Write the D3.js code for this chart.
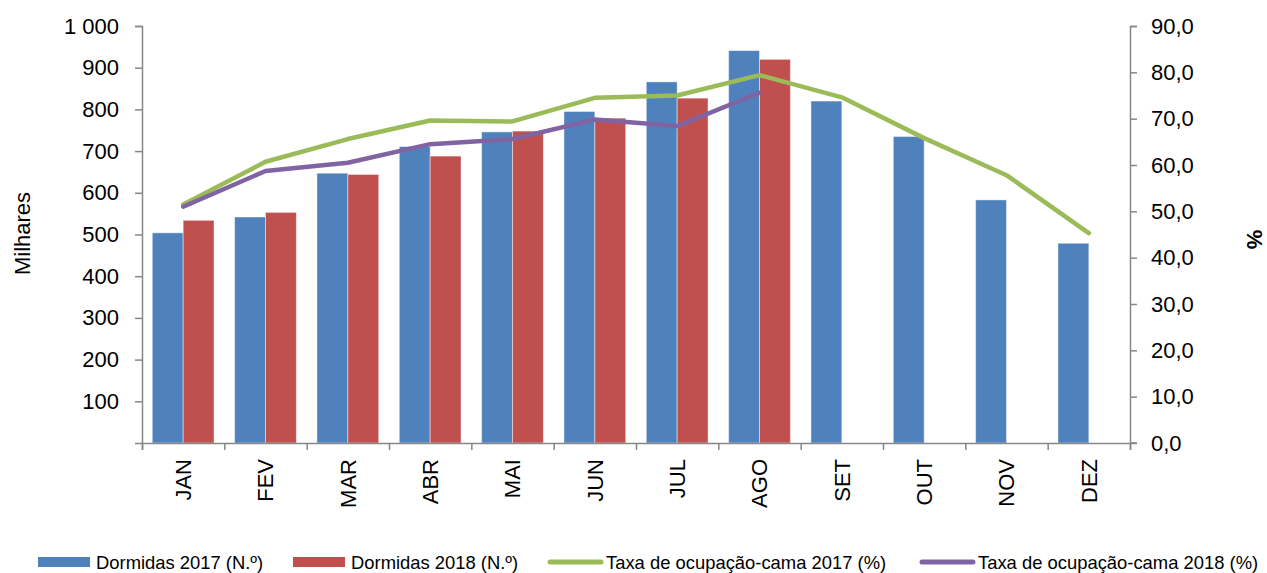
<!DOCTYPE html>
<html>
<head>
<meta charset="utf-8">
<script src="https://cdnjs.cloudflare.com/ajax/libs/d3/7.8.5/d3.min.js"></script>
<style>
  body { margin: 0; background: #fff; }
  text { font-family: "Liberation Sans", Arial, sans-serif; }
</style>
</head>
<body>
<div id="chart"></div>
<script>
var months = ["JAN", "FEV", "MAR", "ABR", "MAI", "JUN", "JUL", "AGO", "SET", "OUT", "NOV", "DEZ"];
var dormidas2017 = [504, 542, 647, 711, 746, 795, 866, 941, 820, 735, 583, 479];
var dormidas2018 = [534, 553, 644, 688, 748, 779, 827, 920];
var taxa2017 = [51.5, 60.7, 65.6, 69.6, 69.4, 74.5, 75.0, 79.4, 74.6, 65.8, 57.8, 45.3];
var taxa2018 = [51.0, 58.7, 60.5, 64.5, 65.6, 69.8, 68.4, 75.6];
var leftTicks = [100, 200, 300, 400, 500, 600, 700, 800, 900, 1000];
var rightTicks = [0, 10, 20, 30, 40, 50, 60, 70, 80, 90];
var seriesNames = ["Dormidas 2017 (N.º)", "Dormidas 2018 (N.º)", "Taxa de ocupação-cama 2017 (%)", "Taxa de ocupação-cama 2018 (%)"];

var W = 1267, H = 573;
var margin = { top: 26, right: 137, bottom: 130, left: 142 },
    width = W - margin.left - margin.right,
    height = H - margin.top - margin.bottom;

var axisColor = "#868686";
var blue = "#4F81BD", red = "#C0504D", green = "#9BBB59", purple = "#8064A2";

const svg = d3.select("#chart")
  .append("svg")
    .attr("width", W)
    .attr("height", H);

const g = svg.append("g")
    .attr("transform", "translate(" + margin.left + "," + margin.top + ")");

// scales
var x0 = d3.scaleBand()
  .domain(months)
  .range([0, width])
  .paddingInner(0.25)
  .paddingOuter(0.125);

var x1 = d3.scaleBand()
  .domain(["2017", "2018"])
  .range([0, x0.bandwidth()]);

var yL = d3.scaleLinear().domain([0, 1000]).range([height, 0]);
var yR = d3.scaleLinear().domain([0, 90]).range([height, 0]);

var fmtL = function(d) { return d >= 1000 ? d3.format(",")(d).replace(",", " ") : String(d); };
var fmtR = function(d) { return d3.format(".1f")(d).replace(".", ","); };

// bars
var barData = [];
months.forEach(function(m, i) {
  barData.push({ m: m, s: "2017", v: dormidas2017[i], c: blue });
  if (i < dormidas2018.length) barData.push({ m: m, s: "2018", v: dormidas2018[i], c: red });
});

g.selectAll("rect.bar")
  .data(barData)
  .enter()
  .append("rect")
    .attr("class", "bar")
    .attr("x", function(d) { return x0(d.m) + x1(d.s); })
    .attr("y", function(d) { return yL(d.v); })
    .attr("width", x1.bandwidth())
    .attr("height", function(d) { return height - yL(d.v); })
    .attr("fill", function(d) { return d.c; })
    .attr("stroke", "#ffffff")
    .attr("stroke-opacity", 0.45)
    .attr("stroke-width", 1);

// left axis
var gl = g.append("g")
  .call(d3.axisLeft(yL).tickValues([0].concat(leftTicks)).tickSize(7).tickPadding(16)
    .tickFormat(function(d) { return d === 0 ? "" : fmtL(d); }));

// right axis
var gr = g.append("g")
  .attr("transform", "translate(" + width + ",0)")
  .call(d3.axisRight(yR).tickValues(rightTicks).tickSize(7).tickPadding(14).tickFormat(fmtR));

// bottom: boundary ticks
var xb = d3.scaleLinear().domain([0, months.length]).range([0, width]);
var gb = g.append("g")
  .attr("transform", "translate(0," + height + ")")
  .call(d3.axisBottom(xb).tickValues(d3.range(months.length + 1)).tickSize(7).tickFormat(""));

// bottom: month labels
var gm = g.append("g")
  .attr("transform", "translate(0," + height + ")")
  .call(d3.axisBottom(x0).tickSize(0));
gm.select(".domain").remove();
gm.selectAll("text")
  .attr("transform", "rotate(-90)")
  .attr("x", -16)
  .attr("y", 0)
  .attr("dy", "0.36em")
  .style("text-anchor", "end");

[gl, gr, gb].forEach(function(a) {
  a.selectAll(".domain").attr("stroke", axisColor).attr("stroke-width", 1.5);
  a.selectAll(".tick line").attr("stroke", axisColor).attr("stroke-width", 1.5);
});
[gl, gr, gm].forEach(function(a) {
  a.selectAll("text").attr("font-size", 22).attr("fill", "#000")
    .attr("font-family", "'Liberation Sans', Arial, sans-serif");
});
gr.select(".domain").attr("d", "M7,0.5H0.5V" + height + "H7");
gl.select(".domain").attr("d", "M-7,0.5H0.5V" + height);

// lines
var line = d3.line()
  .x(function(d, i) { return x0(months[i]) + x0.bandwidth() / 2; })
  .y(function(d) { return yR(d); });

g.append("path")
  .datum(taxa2017)
  .attr("d", line)
  .attr("fill", "none")
  .attr("stroke", green)
  .attr("stroke-width", 4.5)
  .attr("stroke-linejoin", "round")
  .attr("stroke-linecap", "round");

g.append("path")
  .datum(taxa2018)
  .attr("d", line)
  .attr("fill", "none")
  .attr("stroke", purple)
  .attr("stroke-width", 4.5)
  .attr("stroke-linejoin", "round")
  .attr("stroke-linecap", "round");

// axis titles
svg.append("text")
  .attr("transform", "translate(30," + (margin.top + height * 0.5 - 1) + ")rotate(-90)")
  .attr("text-anchor", "middle")
  .attr("font-size", 22)
  .text("Milhares");

svg.append("text")
  .attr("transform", "translate(1247," + (margin.top + height * 0.5 + 5) + ")rotate(90)")
  .attr("text-anchor", "middle")
  .attr("font-size", 22)
  .attr("font-weight", "bold")
  .text("%");

// legend
var legendX = [38, 293, 548, 920];
var legendType = ["rect", "rect", "line", "line"];
var legendColor = [blue, red, green, purple];
var ly = 562;
var lg = svg.append("g");
seriesNames.forEach(function(name, i) {
  if (legendType[i] === "rect") {
    lg.append("rect")
      .attr("x", legendX[i]).attr("y", ly - 5)
      .attr("width", 52).attr("height", 10)
      .attr("fill", legendColor[i]);
  } else {
    lg.append("line")
      .attr("x1", legendX[i] + 2).attr("x2", legendX[i] + 53)
      .attr("y1", ly).attr("y2", ly)
      .attr("stroke", legendColor[i])
      .attr("stroke-width", 5)
      .attr("stroke-linecap", "round");
  }
  lg.append("text")
    .attr("x", legendX[i] + 58)
    .attr("y", ly)
    .attr("dy", "0.36em")
    .attr("font-size", 18.4)
    .text(name);
});
</script>
</body>
</html>
